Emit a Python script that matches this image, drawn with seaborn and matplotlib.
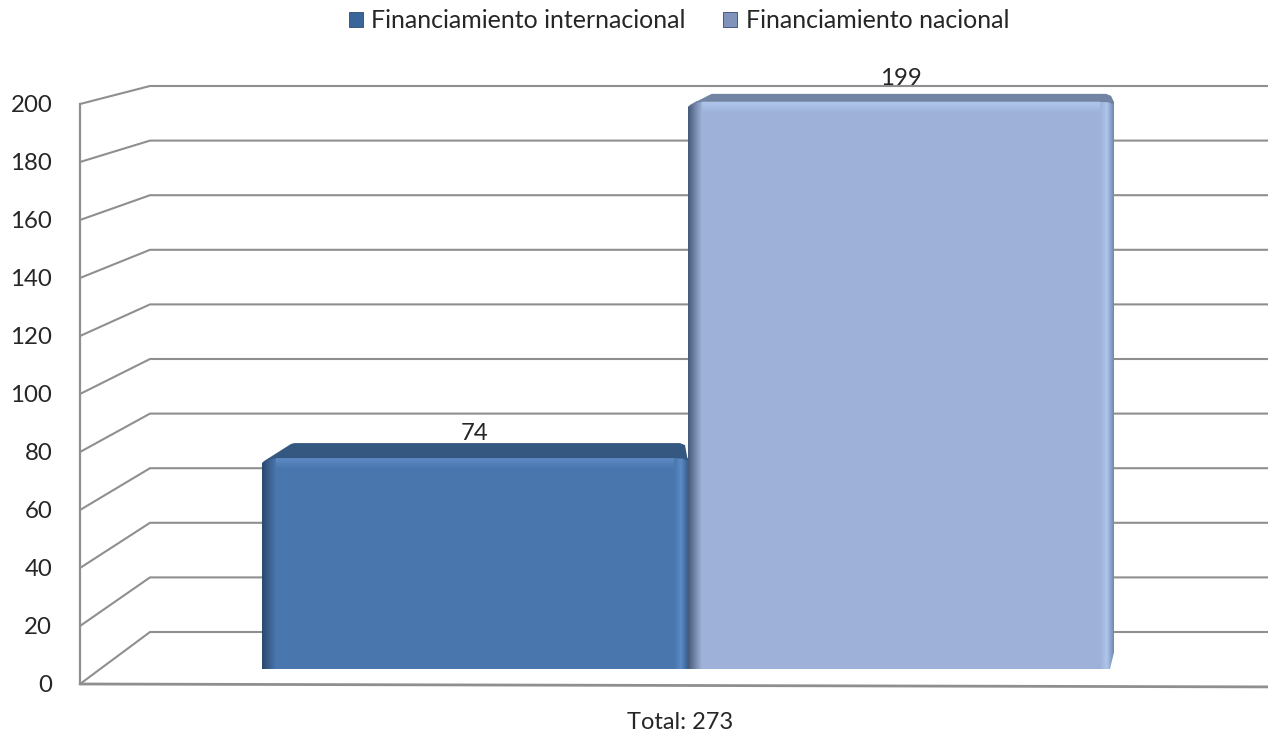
import numpy as np
import pandas as pd
import matplotlib
matplotlib.use("Agg")
import matplotlib.pyplot as plt
from matplotlib.colors import LinearSegmentedColormap
from matplotlib.patches import Polygon
import seaborn as sns

# ---------- data ----------
series_names = ["Financiamiento internacional", "Financiamiento nacional"]
series_values = [74, 199]
category_label = "Total: 273"
y_ticks = [0, 20, 40, 60, 80, 100, 120, 140, 160, 180, 200]

# ---------- style ----------
W, H = 1268, 733
sns.set_theme(style="white")
plt.rcParams["font.family"] = ["Lato", "DejaVu Sans"]
TXT = "#262626"
GRID = "#8f8f8f"
FS = 17.3
face = ["#4A76AE", "#9EB2D9"]
cap_col = ["#34587F", "#7184A3"]
hi_col = ["#5F8BC6", "#AFC6EC"]
left_cols = [["#2B486E", "#4A76AE"], ["#46597A", "#9EB2D9"]]
right_cols = [["#4A76AE", "#5C8AC6", "#3A5F90"], ["#9EB2D9", "#AFC6EC", "#7087AE"]]
cap_h = [15, 8]
cap_dx = [32, 24]
label_pad = [10.5, 9]
swatch = ["#3A6599", "#7F93BB"]

fig = plt.figure(figsize=(W / 100, H / 100), dpi=100)


def axes_px(x0, x1, ytop, ybot):
    return fig.add_axes([x0 / W, 1 - ybot / H, (x1 - x0) / W, (ybot - ytop) / H])


# ---------- frame: front axis plus 3D back wall ----------
frame = axes_px(80, 1268, 104, 684)
frame.set_xlim(80, 1268)
frame.set_ylim(0, 200)
FRONT, BACK = 2.9, 2.73


def back_y(v):
    return (52 + BACK * v) / FRONT


for v in y_ticks:
    frame.plot([80, 150, 1268], [v, back_y(v), back_y(v)], color=GRID, lw=1.5,
               clip_on=False, solid_joinstyle="miter", zorder=1)
frame.plot([80, 1268], [0, -1], color=GRID, lw=2.0, clip_on=False, zorder=1)
for s in ["top", "right", "bottom"]:
    frame.spines[s].set_visible(False)
frame.spines["left"].set_color(GRID)
frame.spines["left"].set_linewidth(1.6)
frame.set_yticks(y_ticks)
frame.set_xticks([680])
frame.set_xticklabels([category_label])
frame.tick_params(axis="y", length=0, pad=20, labelsize=FS, labelcolor=TXT)
frame.tick_params(axis="x", length=0, pad=20, labelsize=17, labelcolor=TXT)
frame.patch.set_visible(False)

# ---------- bars ----------
BASE, PX = 669, 2.85
ax = axes_px(262, 1114, 60, BASE)
df = pd.DataFrame({"categoria": [category_label] * 2, "fuente": series_names, "valor": series_values})
sns.barplot(data=df, x="categoria", y="valor", hue="fuente", hue_order=series_names,
            palette=face, width=1, gap=0, saturation=1, ax=ax, legend=True, linewidth=0)
ax.set_xlim(-0.5, 0.5)
ax.set_ylim(0, (BASE - 60) / PX)
ax.set_autoscale_on(False)
ax.axis("off")
sx, sy = 1 / 852, 1 / PX


def grad(extent, cols, horizontal=True, z=3):
    cm = LinearSegmentedColormap.from_list("g", cols)
    arr = np.linspace(0, 1, 64)
    arr = arr[None, :] if horizontal else arr[:, None]
    ax.imshow(arr, cmap=cm, extent=extent, aspect="auto", origin="lower",
              interpolation="bilinear", zorder=z, clip_on=False)


bars = [p for c in ax.containers for p in c]
for i, (b, c) in enumerate(zip(bars, ax.containers)):
    x0, x1, top = b.get_x(), b.get_x() + b.get_width(), b.get_height()
    bev = 14 * sx
    # highlight below the front top edge
    grad([x0, x1, top - 11 * sy, top], [face[i], hi_col[i]], horizontal=False, z=3)
    # side bevels
    grad([x0, x0 + bev, 0, top], left_cols[i], z=4)
    grad([x1 - bev, x1, 0, top], right_cols[i], z=4)
    # white corner so that the front face looks rounded
    ax.add_patch(Polygon([(x0 - 2 * sx, top - 6 * sy), (x0 + 9 * sx, top + sy), (x0 - 2 * sx, top + 2 * sy)],
                         closed=True, fc="white", ec="none", zorder=4.5, clip_on=False))
    # top cap in perspective
    h, d = cap_h[i] * sy, cap_dx[i] * sx
    ax.add_patch(Polygon(
        [(x0, top - 6 * sy), (x0 + 2 * sx, top - 3 * sy), (x0 + d * 0.9, top + h - sy), (x0 + d, top + h),
         (x1 - 8 * sx, top + h), (x1 - 3 * sx, top + h - 2 * sy), (x1 - sx, top + 2 * sy),
         (x1, top - 3 * sy), (x1 - 5 * sx, top - 0.5 * sy), (x1 - 14 * sx, top),
         (x0 + 14 * sx, top), (x0 + 5 * sx, top - 2 * sy)],
        closed=True, fc=cap_col[i], ec="none", zorder=5, clip_on=False))
    ax.bar_label(c, labels=[str(series_values[i])], padding=12.5 - (12.5 - label_pad[i]), fontsize=FS,
                 color=TXT, zorder=6)

# bottom right corner of the last bar tapers away
x1 = bars[1].get_x() + bars[1].get_width()
ax.add_patch(Polygon([(x1 + sx, 21 * sy), (x1 - 4 * sx, 0), (x1 + sx, 0)], closed=True,
                     fc="white", ec="none", zorder=6, clip_on=False))

# ---------- legend ----------
handles, labels = ax.get_legend_handles_labels()
ax.get_legend().remove()
for h, c in zip(handles, swatch):
    h.set_facecolor(c)
    h.set_edgecolor("#2F4A70")
    h.set_linewidth(0.6)
fig.legend(handles, labels, loc="center", bbox_to_anchor=(679 / W, 1 - 21 / H), ncols=2, frameon=False,
           fontsize=18, handlelength=0.56, handleheight=0.56, handletextpad=0.33,
           columnspacing=1.5, labelcolor=TXT, borderpad=0, borderaxespad=0)

fig.savefig("out.png", dpi=100, facecolor="white")
